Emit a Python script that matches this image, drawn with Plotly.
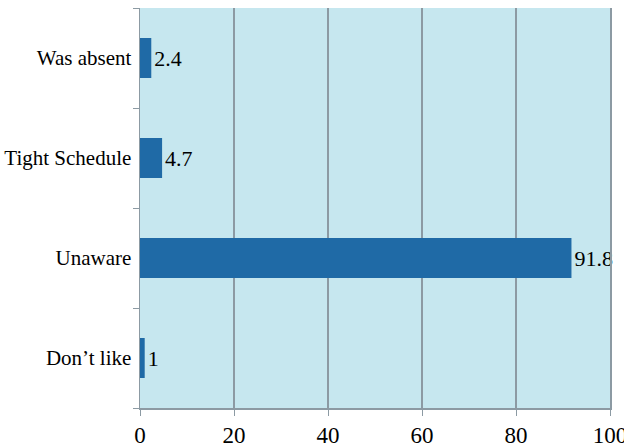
import plotly.graph_objects as go

categories = ["Don\u2019t like", "Unaware", "Tight Schedule", "Was absent"]
values = [1, 91.8, 4.7, 2.4]
value_labels = ["1", "91.8", "4.7", "2.4"]
x_ticks = [0, 20, 40, 60, 80, 100]

font_family = "Liberation Serif, Times New Roman, serif"
grid_col = "#8c9aa3"

fig = go.Figure(go.Bar(
    x=values, y=categories, orientation="h",
    marker=dict(color="#1f6aa6", line=dict(width=0)),
    width=0.4,
    text=value_labels, textposition="outside",
    textfont=dict(family=font_family, size=22, color="black"),
    cliponaxis=False,
))

fig.update_layout(
    width=624, height=447,
    margin=dict(l=140, r=14, t=8, b=39, autoexpand=False),
    paper_bgcolor="white",
    plot_bgcolor="#c6e7ef",
    showlegend=False,
    font=dict(family=font_family, color="black"),
    xaxis=dict(
        range=[0, 100], tickvals=x_ticks, ticktext=[str(v) for v in x_ticks],
        showgrid=True, gridcolor=grid_col, gridwidth=1.5,
        showline=True, linecolor=grid_col, linewidth=1.5,
        ticks="outside", ticklen=6, tickcolor=grid_col,
        tickfont=dict(family=font_family, size=23, color="black"),
        zeroline=False, fixedrange=True, automargin=False,
        ticklabeloverflow="allow",
    ),
    yaxis=dict(
        categoryorder="array", categoryarray=categories,
        showline=True, linecolor=grid_col, linewidth=1.5, mirror=True,
        ticks="outside", ticklen=6, tickcolor=grid_col, tickson="boundaries",
        tickfont=dict(family=font_family, size=21, color="black"),
        showgrid=False, fixedrange=True, ticklabelstandoff=3,
        automargin=False,
    ),
)

fig.write_html(
    "out.html",
    config={"displayModeBar": False, "staticPlot": True},
    post_script="document.body.style.margin='0';document.body.style.overflow='hidden';",
)
